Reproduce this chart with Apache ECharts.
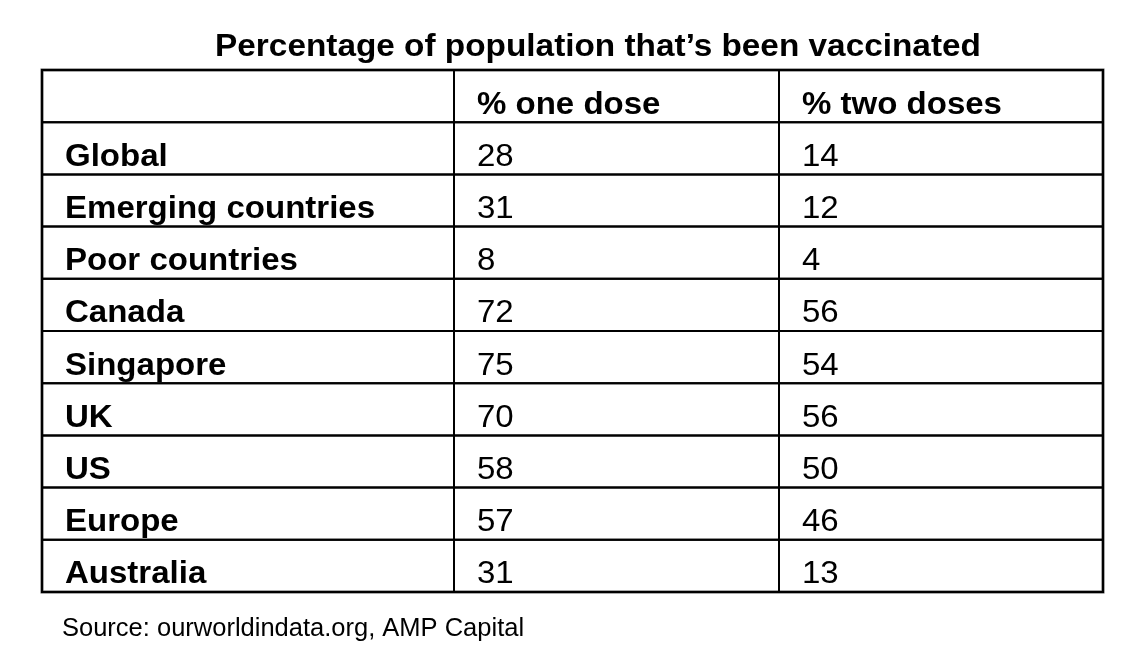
<!DOCTYPE html>
<html>
<head>
<meta charset="utf-8">
<script src="https://cdn.jsdelivr.net/npm/echarts@6/dist/echarts.min.js"></script>
<style>
  html, body { margin: 0; padding: 0; background: #fff; }
  #main { width: 1139px; height: 657px; }
</style>
</head>
<body>
<div id="main"></div>
<script>
// table data
var columnHeaders = ['', '% one dose', '% two doses'];
var regions = ['Global', 'Emerging countries', 'Poor countries', 'Canada', 'Singapore', 'UK', 'US', 'Europe', 'Australia'];
var oneDose = [28, 31, 8, 72, 75, 70, 58, 57, 31];
var twoDoses = [14, 12, 4, 56, 54, 56, 50, 46, 13];

var FONT = "'Liberation Sans', Arial, sans-serif";
// column edges on the hidden x axis (0..1)
var colEdges = [0, 412 / 1061, 737 / 1061, 1];

var rowNames = ['header'].concat(regions);
var cells = [];
// header row
columnHeaders.forEach(function (h, c) {
    cells.push([c, 0, h, 1]);
});
regions.forEach(function (r, i) {
    cells.push([0, i + 1, r, 1]);
    cells.push([1, i + 1, String(oneDose[i]), 0]);
    cells.push([2, i + 1, String(twoDoses[i]), 0]);
});

function renderCell(params, api) {
    var c = api.value(0);
    var row = api.value(1);
    var left = api.coord([colEdges[c], row]);
    var right = api.coord([colEdges[c + 1], row]);
    var h = api.size([0, 1])[1];
    var x0 = left[0], x1 = right[0];
    var y0 = left[1] - h / 2;
    var bold = api.value(3) === 1 || row === 0;
    var text = cells[params.dataIndex][2];
    return {
        type: 'group',
        children: [{
            type: 'rect',
            shape: { x: x0, y: y0, width: x1 - x0, height: h },
            style: { fill: 'rgba(0,0,0,0)', stroke: '#000', lineWidth: 2 }
        }, {
            type: 'text',
            x: x0 + 23,
            y: left[1] + 9,
            scaleX: 1.065,
            style: {
                text: text,
                fill: '#000',
                font: (bold ? 'bold ' : '') + '31px ' + FONT,
                align: 'left',
                verticalAlign: 'middle'
            }
        }]
    };
}

var chart = echarts.init(document.getElementById('main'));
var option = {
    backgroundColor: '#fff',
    animation: false,
    grid: {
        left: 42, right: 36, top: 70, bottom: 65,
        show: true, borderColor: '#555', borderWidth: 3, backgroundColor: '#fff'
    },
    xAxis: { type: 'value', min: 0, max: 1, show: false },
    yAxis: { type: 'category', data: rowNames, inverse: true, show: false },
    graphic: [{
        type: 'text',
        x: 598, y: 47,
        scaleX: 1.042,
        style: {
            text: 'Percentage of population that\u2019s been vaccinated',
            fill: '#000',
            font: 'bold 32px ' + FONT,
            align: 'center',
            verticalAlign: 'middle'
        }
    }, {
        type: 'text',
        x: 62, y: 629,
        style: {
            text: 'Source: ourworldindata.org, AMP Capital',
            fill: '#000',
            font: '25.5px ' + FONT,
            align: 'left',
            verticalAlign: 'middle'
        }
    }],
    series: [{
        type: 'custom',
        renderItem: renderCell,
        encode: { x: 0, y: 1 },
        data: cells
    }]
};
chart.setOption(option);
</script>
</body>
</html>
